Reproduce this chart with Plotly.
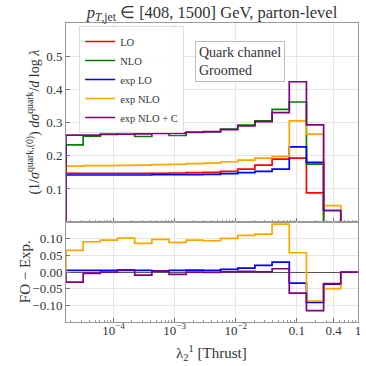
import plotly.graph_objects as go
from plotly.subplots import make_subplots

# lambda bin edges (17 log bins from e^-11 to 1)
edges = [1.670e-5, 3.19e-5, 6.09e-5, 1.164e-4, 2.222e-4, 4.245e-4, 8.108e-4,
         1.548e-3, 2.957e-3, 5.648e-3, 1.079e-2, 2.060e-2, 3.935e-2, 7.515e-2,
         0.1435, 0.2741, 0.5236, 1.0]

# upper panel: normalised distributions
lo = [0.147, 0.147, 0.147, 0.147, 0.147, 0.147, 0.148, 0.149, 0.150, 0.153,
      0.160, 0.172, 0.190, 0.193, 0.088, 0.0, 0.0]
nlo = [0.233, 0.259, 0.265, 0.271, 0.258, 0.269, 0.261, 0.270, 0.272, 0.280,
       0.292, 0.305, 0.340, 0.362, 0.175, 0.0, 0.0]
exp_lo = [0.142, 0.142, 0.142, 0.142, 0.142, 0.143, 0.143, 0.143, 0.144, 0.146,
          0.149, 0.153, 0.160, 0.227, 0.180, 0.035, 0.0]
exp_nlo = [0.169, 0.170, 0.170, 0.171, 0.172, 0.173, 0.174, 0.176, 0.178, 0.182,
           0.187, 0.193, 0.198, 0.305, 0.265, 0.050, 0.0]
exp_nlo_c = [0.262, 0.262, 0.264, 0.265, 0.266, 0.267, 0.268, 0.271, 0.273, 0.279,
             0.290, 0.303, 0.330, 0.423, 0.293, 0.035, 0.0]

# lower panel: FO - Exp
diff_lo = [0.005, 0.005, 0.005, 0.005, 0.005, 0.004, 0.005, 0.006, 0.005, 0.008,
           0.012, 0.020, 0.030, -0.033, -0.091, -0.036, 0.0]
diff_nlo = [0.065, 0.091, 0.096, 0.102, 0.086, 0.098, 0.089, 0.096, 0.094, 0.101,
            0.110, 0.114, 0.144, 0.058, -0.087, -0.050, 0.0]
diff_nlo_c = [-0.030, -0.004, 0.000, 0.007, -0.009, 0.003, -0.007, 0.000, -0.001, 0.001,
              0.002, 0.001, 0.010, -0.063, -0.116, -0.035, 0.0]

xticks = [1e-4, 1e-3, 1e-2, 0.1, 0.4, 1]
xticklabels = ["10<sup>\u22124</sup>", "10<sup>\u22123</sup>", "10<sup>\u22122</sup>", "0.1", "0.4", "1"]
minor_x = [k * 10.0 ** n for n in range(-5, 0) for k in range(2, 10) if 1.67e-5 < k * 10.0 ** n < 1]

FONT = "Liberation Serif"
TXT = "#333"


def step(vals):
    # histogram outline that starts and ends on zero
    xs = [edges[0]] + edges[:-1] + [edges[-1], edges[-1]]
    ys = [0] + vals + [vals[-1], 0]
    return xs, ys


fig = make_subplots(rows=2, cols=1, shared_xaxes=True, vertical_spacing=0,
                    row_heights=[0.666, 0.334])

upper = [("LO", lo, "#ff0000"), ("NLO", nlo, "#008000"), ("exp LO", exp_lo, "#0000ff"),
         ("exp NLO", exp_nlo, "#ffa500"), ("exp NLO + C", exp_nlo_c, "#800080")]
for name, vals, col in upper:
    xs, ys = step(vals)
    fig.add_trace(go.Scatter(x=xs, y=ys, mode="lines", name=name, line_shape="hv",
                             line=dict(color=col, width=1.7)), row=1, col=1)

lower = [(diff_lo, "#0000ff"), (diff_nlo, "#ffa500"), (diff_nlo_c, "#800080")]
for vals, col in lower:
    xs, ys = step(vals)
    fig.add_trace(go.Scatter(x=xs, y=ys, mode="lines", showlegend=False, line_shape="hv",
                             line=dict(color=col, width=1.7)), row=2, col=1)

xax = dict(type="log", range=[-4.777, 0.0005], tickvals=xticks, ticktext=xticklabels,
           ticks="inside", ticklen=4, tickcolor="#777", showgrid=True, gridcolor="#e6e6e6",
           showline=True, linecolor="#999", mirror=True, zeroline=False, automargin=False,
           minor=dict(tickvals=minor_x, ticks="inside", ticklen=2, tickcolor="#999", showgrid=False),
           ticklabelstandoff=-4,
           tickfont=dict(family=FONT, size=13, color=TXT))
fig.update_xaxes(**xax)
fig.update_xaxes(showticklabels=False, row=1, col=1)

yax = dict(ticks="inside", ticklen=4, tickcolor="#777", showgrid=True, gridcolor="#e6e6e6",
           showline=True, linecolor="#999", mirror=True, automargin=False,
           tickfont=dict(family=FONT, size=13, color=TXT))
fig.update_yaxes(**yax)
fig.update_yaxes(range=[0, 0.6], tickvals=[0.1, 0.2, 0.3, 0.4, 0.5], zeroline=False, row=1, col=1)
fig.update_yaxes(range=[-0.15, 0.15], tickvals=[-0.10, -0.05, 0.0, 0.05, 0.10], tickformat=".2f",
                 zeroline=True, zerolinecolor="#555", zerolinewidth=1, row=2, col=1)

fig.add_annotation(text="(1/<i>\u03c3</i><sup>quark,(0)</sup>) <i>d\u03c3</i><sup>quark</sup>/<i>d</i> log <i>\u03bb</i>",
                   xref="paper", yref="paper", x=-0.112, y=0.668, xanchor="center", yanchor="middle",
                   textangle=-90, showarrow=False, font=dict(family=FONT, size=14, color=TXT))
fig.add_annotation(text="FO \u2212 Exp.", xref="paper", yref="paper", x=-0.14, y=0.167,
                   xanchor="center", yanchor="middle",
                   textangle=-90, showarrow=False, font=dict(family=FONT, size=15, color=TXT))
fig.add_annotation(text="\u03bb<sub>2</sub><sup>1</sup> [Thrust]", xref="paper", yref="paper",
                   x=0.497, y=-0.105, xanchor="center", yanchor="middle", showarrow=False,
                   font=dict(family=FONT, size=15, color=TXT))
fig.add_annotation(text="Quark channel<br>Groomed", xref="paper", yref="paper", x=0.596, y=0.872,
                   xanchor="center", yanchor="middle",
                   showarrow=False, align="left", bordercolor="#bbb", borderwidth=1, borderpad=3,
                   bgcolor="white", font=dict(family=FONT, size=14, color=TXT))

fig.update_layout(
    width=366, height=366,
    margin=dict(l=66, r=8, t=23, b=44, autoexpand=False),
    paper_bgcolor="white", plot_bgcolor="white",
    title=dict(text="<i>p</i><sub><i>T</i>,jet</sub> \u2208 [408, 1500] GeV, parton-level",
               x=0.5, xref="paper", y=0.967, yanchor="middle",
               font=dict(family=FONT, size=16.5, color=TXT)),
    legend=dict(x=0.045, y=0.99, xanchor="left", yanchor="top", bgcolor="rgba(255,255,255,0.9)",
                bordercolor="#ddd", borderwidth=1, itemwidth=30, tracegroupgap=0,
                font=dict(family=FONT, size=10.5, color=TXT)),
    showlegend=True,
)

# drop the browser's default page margin so the figure sits at the window corner
fig.write_html("out.html", config={"displayModeBar": False},
               post_script="document.body.style.margin='0';")
